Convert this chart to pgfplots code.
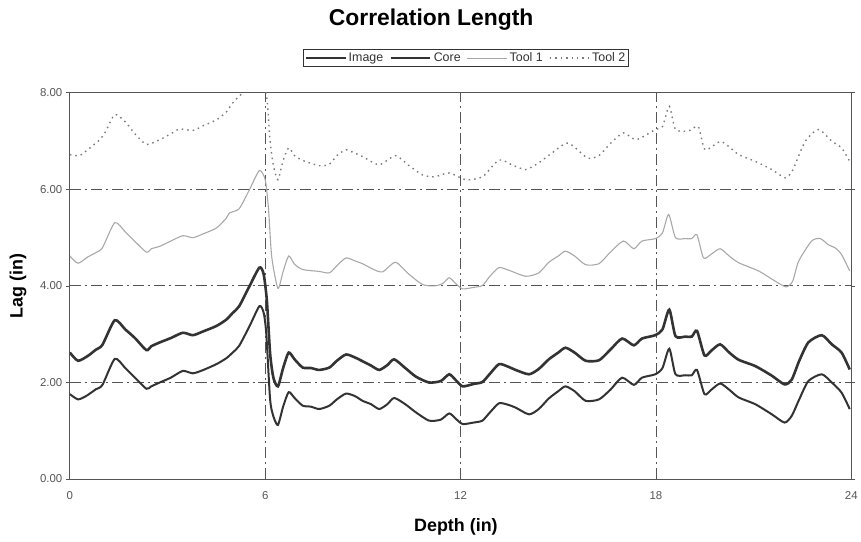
\documentclass[border=0pt]{standalone}
\usepackage{fontspec}
\setmainfont{Liberation Sans}
\usepackage{pgfplots}
\pgfplotsset{compat=1.18}
\definecolor{dk}{HTML}{333333}
\definecolor{axc}{HTML}{555555}
\definecolor{tone}{HTML}{A8A8A8}
\definecolor{ttwo}{HTML}{7A7A7A}
\definecolor{gridc}{HTML}{555555}
\begin{document}
\begin{tikzpicture}
\begin{axis}[
  scale only axis, width=783bp, height=387bp,
  xmin=0, xmax=24, ymin=0, ymax=8,
  xtick={0,6,12,18,24}, ytick={0,2,4,6,8},
  extra x ticks={6,12,18}, extra y ticks={2,4,6},
  extra tick style={grid=major, xticklabels={}, yticklabels={}, xtick style={draw=none}, ytick style={draw=none}},
  major grid style={draw=gridc, line width=0.9bp, dash pattern=on 11bp off 4bp on 2bp off 4bp},
  axis line style={draw=axc, line width=1bp},
  /pgf/number format/assume math mode=true,
  yticklabel style={/pgf/number format/fixed, /pgf/number format/fixed zerofill, /pgf/number format/precision=2, font=\fontsize{11.5}{13}\selectfont, text=axc},
  xticklabel style={font=\fontsize{11.5}{13}\selectfont, text=axc, yshift=-5bp},
  xtick style={draw=none},
  ytick style={draw=axc, line width=0.8bp},
  tick align=outside, major tick length=4bp,
  xlabel={\textbf{Depth (in)}}, ylabel={\textbf{Lag (in)}},
  xlabel style={font=\fontsize{18}{20}\selectfont, at={(axis description cs:0.494,-0.124)}, anchor=center},
  ylabel style={font=\fontsize{18}{20}\selectfont, at={(axis description cs:-0.0664,0.5)}, anchor=center},
  legend columns=-1,
  legend style={at={(axis description cs:0.507,1.09)}, anchor=center, draw=dk, line width=0.8bp, font=\fontsize{12.5}{14}\selectfont, text=dk, inner sep=1.5bp, /tikz/every even column/.append style={column sep=4bp}},
  legend image code/.code={\draw[#1] (0bp,0bp) -- (40bp,0bp);},
]
\addplot[dk, line width=2bp, smooth, tension=0.4] coordinates {
(0,1.76)(0.25,1.65)(0.5,1.72)(0.8,1.86)(1.0,1.95)(1.38,2.49)(1.7,2.30)(2.0,2.10)(2.35,1.87)(2.5,1.92)(2.76,2.00)(3.1,2.10)(3.47,2.24)(3.78,2.19)(4.1,2.26)(4.5,2.38)(4.8,2.50)(5.0,2.62)(5.2,2.76)(5.52,3.17)(5.82,3.58)(5.95,3.45)(6.03,3.03)(6.15,1.65)(6.25,1.30)(6.39,1.12)(6.55,1.50)(6.72,1.80)(6.9,1.68)(7.15,1.52)(7.4,1.50)(7.66,1.45)(7.97,1.52)(8.2,1.65)(8.48,1.77)(8.75,1.72)(8.99,1.62)(9.25,1.55)(9.5,1.45)(9.75,1.55)(9.96,1.68)(10.3,1.55)(10.63,1.38)(11.03,1.21)(11.39,1.23)(11.65,1.36)(11.85,1.25)(12.06,1.14)(12.4,1.17)(12.67,1.21)(12.9,1.38)(13.18,1.57)(13.45,1.54)(13.69,1.48)(14.1,1.34)(14.4,1.45)(14.71,1.67)(15.0,1.82)(15.22,1.92)(15.5,1.82)(15.84,1.62)(16.25,1.65)(16.6,1.85)(16.96,2.10)(17.32,1.95)(17.57,2.10)(17.98,2.17)(18.2,2.30)(18.41,2.70)(18.6,2.17)(18.9,2.15)(19.1,2.15)(19.26,2.26)(19.49,1.76)(19.7,1.85)(19.97,1.98)(20.25,1.85)(20.54,1.69)(21.05,1.55)(21.56,1.34)(21.95,1.17)(22.17,1.31)(22.4,1.65)(22.68,2.03)(23.09,2.17)(23.4,2.00)(23.7,1.79)(23.95,1.45)
};
\addlegendentry{Image}
\addplot[dk, line width=2.6bp, smooth, tension=0.4] coordinates {
(0,2.62)(0.25,2.45)(0.55,2.55)(0.8,2.68)(1.0,2.78)(1.38,3.29)(1.7,3.10)(2.0,2.92)(2.35,2.67)(2.5,2.75)(2.76,2.83)(3.1,2.92)(3.47,3.03)(3.78,2.98)(4.1,3.06)(4.5,3.17)(4.8,3.30)(5.0,3.44)(5.2,3.58)(5.52,4.00)(5.82,4.38)(5.95,4.25)(6.05,3.70)(6.15,2.60)(6.25,2.10)(6.39,1.92)(6.55,2.30)(6.72,2.62)(6.9,2.48)(7.15,2.31)(7.4,2.30)(7.66,2.26)(7.97,2.31)(8.2,2.45)(8.48,2.58)(8.75,2.52)(8.99,2.44)(9.25,2.35)(9.5,2.26)(9.75,2.36)(9.96,2.48)(10.3,2.30)(10.63,2.12)(11.03,2.00)(11.39,2.03)(11.65,2.17)(11.85,2.05)(12.06,1.92)(12.4,1.97)(12.67,2.01)(12.9,2.18)(13.18,2.38)(13.45,2.33)(13.69,2.26)(14.1,2.17)(14.4,2.28)(14.71,2.48)(15.0,2.62)(15.22,2.72)(15.5,2.62)(15.84,2.45)(16.25,2.46)(16.6,2.68)(16.96,2.91)(17.32,2.77)(17.57,2.91)(17.98,2.98)(18.2,3.10)(18.41,3.51)(18.6,2.96)(18.9,2.95)(19.1,2.95)(19.26,3.07)(19.49,2.56)(19.7,2.66)(19.97,2.79)(20.25,2.62)(20.54,2.47)(21.05,2.34)(21.56,2.14)(21.95,1.96)(22.17,2.06)(22.4,2.45)(22.68,2.83)(23.09,2.98)(23.4,2.79)(23.7,2.62)(23.95,2.27)
};
\addlegendentry{Core}
\addplot[tone, line width=1.1bp, smooth, tension=0.4] coordinates {
(0,4.62)(0.25,4.47)(0.55,4.60)(0.8,4.69)(1.0,4.79)(1.38,5.31)(1.7,5.12)(1.94,4.96)(2.35,4.70)(2.5,4.77)(2.76,4.82)(3.1,4.93)(3.47,5.04)(3.78,5.00)(4.1,5.08)(4.5,5.20)(4.8,5.40)(4.9,5.51)(5.2,5.60)(5.52,6.00)(5.82,6.39)(6.0,6.20)(6.1,5.60)(6.2,4.60)(6.39,3.95)(6.55,4.30)(6.72,4.62)(6.9,4.45)(7.15,4.34)(7.66,4.30)(7.97,4.27)(8.2,4.42)(8.48,4.58)(8.75,4.52)(8.99,4.46)(9.3,4.35)(9.6,4.29)(10.0,4.49)(10.4,4.25)(10.83,4.03)(11.2,4.00)(11.45,4.05)(11.65,4.17)(11.85,4.05)(12.06,3.94)(12.4,3.97)(12.67,4.01)(12.9,4.20)(13.18,4.38)(13.5,4.32)(14.0,4.20)(14.4,4.27)(14.71,4.49)(15.0,4.62)(15.22,4.72)(15.5,4.62)(15.84,4.44)(16.25,4.46)(16.6,4.70)(17.0,4.93)(17.32,4.77)(17.57,4.93)(17.98,4.98)(18.2,5.10)(18.39,5.48)(18.6,5.00)(18.9,4.98)(19.1,4.98)(19.26,5.06)(19.46,4.58)(19.7,4.66)(19.97,4.77)(20.25,4.62)(20.54,4.48)(21.15,4.31)(21.66,4.10)(22.0,3.98)(22.2,4.10)(22.38,4.51)(22.78,4.93)(23.05,4.98)(23.3,4.85)(23.5,4.79)(23.7,4.65)(23.95,4.31)
};
\addlegendentry{Tool 1}
\addplot[ttwo, line width=1.4bp, dash pattern=on 1.5bp off 4bp, smooth, tension=0.4] coordinates {
(0,6.72)(0.3,6.70)(0.6,6.85)(0.92,7.03)(1.1,7.20)(1.38,7.55)(1.7,7.40)(2.0,7.15)(2.35,6.93)(2.76,7.03)(3.1,7.15)(3.37,7.25)(3.78,7.22)(4.1,7.32)(4.5,7.44)(4.8,7.60)(5.0,7.79)(5.3,8.00)(5.6,8.25)(5.9,8.30)(6.05,7.90)(6.15,7.00)(6.25,6.50)(6.39,6.20)(6.55,6.60)(6.72,6.86)(6.9,6.70)(7.15,6.60)(7.66,6.49)(7.97,6.52)(8.2,6.70)(8.48,6.82)(8.75,6.75)(8.99,6.68)(9.5,6.51)(10.0,6.70)(10.4,6.50)(10.83,6.30)(11.2,6.26)(11.65,6.34)(12.16,6.20)(12.67,6.26)(13.18,6.61)(13.6,6.50)(14.0,6.41)(14.4,6.55)(14.8,6.75)(15.3,6.96)(15.9,6.65)(16.25,6.70)(16.6,6.95)(17.0,7.17)(17.4,7.03)(17.98,7.24)(18.2,7.30)(18.41,7.72)(18.6,7.24)(19.0,7.21)(19.3,7.30)(19.51,6.82)(20.0,6.99)(20.54,6.72)(21.05,6.58)(21.56,6.41)(21.97,6.24)(22.2,6.40)(22.58,6.99)(22.99,7.24)(23.4,7.00)(23.7,6.86)(23.95,6.58)
};
\addlegendentry{Tool 2}
\coordinate (BL) at (rel axis cs:0,0);
\coordinate (TR) at (rel axis cs:1,1);
\end{axis}
\node[font=\fontsize{23}{26}\selectfont\bfseries, anchor=center] at ([xshift=-421bp,yshift=73bp]TR) {Correlation Length};
\path ([xshift=-70bp,yshift=-63bp]BL) rectangle ([xshift=8bp,yshift=93bp]TR);
\end{tikzpicture}
\end{document}
